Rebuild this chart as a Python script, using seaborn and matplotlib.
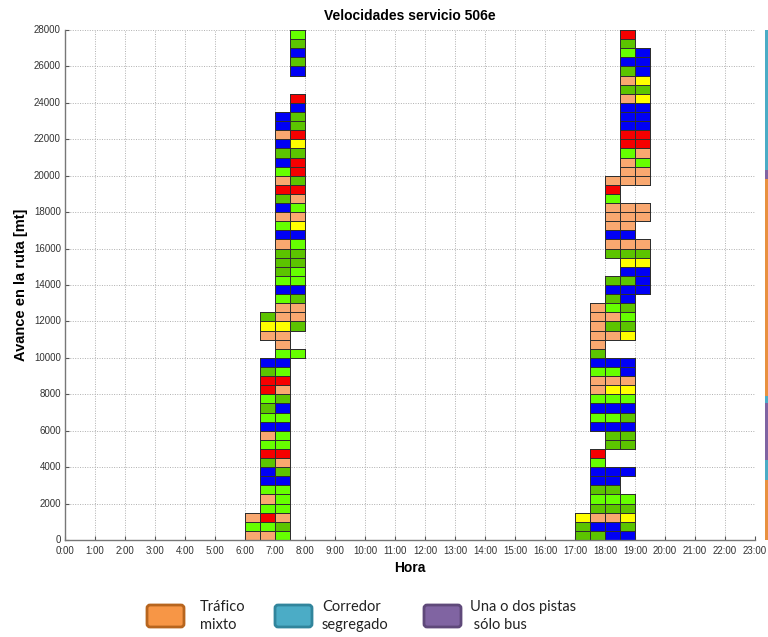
import numpy as np
import pandas as pd
import matplotlib
matplotlib.use("Agg")
import matplotlib.pyplot as plt
from matplotlib.colors import ListedColormap
from matplotlib.patches import FancyBboxPatch
import seaborn as sns

# ---------------- data ----------------
# speed-class codes per 500 m row (row 0 = 0-500 m), one char per half-hour column
# R=red, O=orange, Y=yellow, L=light green, D=dark green, B=blue, .=no data
morning_start = "6:00"
morning_rows = [
    "OOL.", "LLD.", "ORO.", ".LL.", ".OL.", ".LL.", ".BB.", ".BD.", ".DO.", ".RR.",
    ".LL.", ".OL.", ".BB.", ".LL.", ".DB.", ".LD.", ".RO.", ".RR.", ".DL.", ".BB.",
    "..LL", "..O.", ".OO.", ".YYD", ".DOO", "..OO", "..LD", "..BB", "..LL", "..DL",
    "..DD", "..DD", "..OL", "..BB", "..LY", "..OO", "..BL", "..DO", "..RR", "..OD",
    "..LR", "..BR", "..DD", "..BY", "..OR", "..BD", "..BD", "...B", "...R", "....",
    "....", "...B", "...D", "...B", "...D", "...L",
]
evening_start = "17:00"
evening_rows = [
    "DDBB.", "DBBD.", "YOOY.", ".DDD.", ".LLL.", ".DD..", ".BB..", ".BBB.", ".L...", ".R...",
    "..DD.", "..DD.", ".BBB.", ".LLD.", ".BBB.", ".LLL.", ".OYY.", ".OOO.", ".LLB.", ".BBB.",
    ".D...", ".O...", ".OOY.", ".ODD.", ".OOL.", ".OLD.", "..DB.", "..BBB", "..DDB", "...BB",
    "...YY", "..DDD", "..OOO", "..BB.", "..OO.", "..OOO", "..OOO", "..L..", "..R..", "..OOO",
    "...OO", "...OL", "...LO", "...RR", "...RR", "...BB", "...BB", "...BB", "...OY", "...DD",
    "...OY", "...DB", "...BB", "...LB", "...D.", "...R.",
]
speed_classes = ["R", "O", "Y", "L", "D", "B"]
speed_colors = ["#F50000", "#F9A870", "#FFFF00", "#66FF00", "#5CC400", "#0000F5"]

hour_labels = [f"{h}:00" for h in range(24)]
distance_ticks = list(range(0, 28001, 2000))

# corridor type along the route (right-hand strip), metres
corridor_start = [0, 3300, 4400, 7500, 7900, 19800, 20300]
corridor_end = [3300, 4400, 7500, 7900, 19800, 20300, 28000]
corridor_type = ["mixto", "segregado", "bus", "segregado", "mixto", "bus", "segregado"]
corridor_colors = {"mixto": "#E8913F", "segregado": "#4BACC6", "bus": "#8064A2"}

legend_labels = ["Tráfico\nmixto", "Corredor\nsegregado", "Una o dos pistas\n sólo bus"]
legend_fill = ["#F79646", "#4BACC6", "#8064A2"]
legend_edge = ["#B7651E", "#31859C", "#5F497A"]

# ---------------- build grid ----------------
CELL_M = 500
n_rows = 28000 // CELL_M
n_cols = 46  # half hours 0:00 -> 23:00

def col_index(t):
    h, m = t.split(":")
    return int(h) * 2 + int(m) // 30

grid = np.full((n_rows, n_cols), np.nan)
for start, rows in ((morning_start, morning_rows), (evening_start, evening_rows)):
    c0 = col_index(start)
    for r, s in enumerate(rows):
        for k, ch in enumerate(s):
            if ch in speed_classes:
                grid[r, c0 + k] = speed_classes.index(ch)

df = pd.DataFrame(grid)

# ---------------- plot ----------------
W, H = 768, 637
fig = plt.figure(figsize=(W / 100, H / 100), dpi=100)
plt.rcParams["font.family"] = ["Liberation Sans", "DejaVu Sans"]

ax = fig.add_axes([65 / W, 1 - 540 / H, 690 / W, 510 / H])
cmap = ListedColormap(speed_colors)
sns.heatmap(df, mask=df.isna(), cmap=cmap, vmin=-0.5, vmax=5.5, cbar=False,
            linewidths=0.7, linecolor="#303030", ax=ax)
mesh = ax.collections[0]
flat = grid.ravel()
edge = [(0.18, 0.18, 0.18, 1.0) if not np.isnan(v) else (0, 0, 0, 0) for v in flat]
mesh.set_edgecolors(edge)

ax.set_ylim(0, n_rows)
ax.set_xlim(0, n_cols)
ax.set_xticks(np.arange(0, n_cols + 1, 2))
ax.set_xticklabels(hour_labels, rotation=0, fontsize=7)
ax.set_yticks(np.array(distance_ticks) / CELL_M)
ax.set_yticklabels([str(d) for d in distance_ticks], rotation=0, fontsize=7)
ax.tick_params(axis="x", direction="in", length=3, color="#555555", pad=4, labelcolor="#333333")
ax.tick_params(axis="y", direction="in", length=3, color="#555555", pad=3, labelcolor="#333333")
ax.grid(True, linestyle=(0, (1, 1.5)), color="#B0B0B0", linewidth=0.7)
ax.set_axisbelow(True)
for side in ("top", "right"):
    ax.spines[side].set_visible(False)
for side in ("left", "bottom"):
    ax.spines[side].set_visible(True)
    ax.spines[side].set_color("#777777")
    ax.spines[side].set_linewidth(1.0)

ax.set_title("Velocidades servicio 506e", fontsize=10, fontweight="bold", pad=7)
ax.set_xlabel("Hora", fontsize=10, fontweight="bold", labelpad=4)
ax.set_ylabel("Avance en la ruta [mt]", fontsize=10.5, fontweight="bold", labelpad=4)

# right-hand corridor strip
sax = fig.add_axes([765 / W, 1 - 540 / H, 8 / W, 510 / H])
sax.bar([0] * len(corridor_start),
        np.array(corridor_end) - np.array(corridor_start),
        bottom=corridor_start, width=1.0,
        color=[corridor_colors[c] for c in corridor_type])
sax.set_xlim(-0.5, 0.5)
sax.set_ylim(0, 28000)
sax.axis("off")

# bottom legend
box_x = [147, 275, 424]
text_x = [200, 322, 470]
for bx, tx, lab, fc, ec in zip(box_x, text_x, legend_labels, legend_fill, legend_edge):
    p = FancyBboxPatch((bx / W, 1 - 627 / H), 37 / W, 22 / H,
                       boxstyle="round,pad=0,rounding_size=0.004",
                       mutation_aspect=W / H,
                       transform=fig.transFigure, facecolor=fc, edgecolor=ec,
                       linewidth=2)
    fig.add_artist(p)
    fig.text(tx / W, 1 - 616 / H, lab, fontsize=10.5, va="center", ha="left",
             color="#222222", family=["Lato", "DejaVu Sans"], linespacing=1.4)

fig.savefig("out.png", dpi=100)
